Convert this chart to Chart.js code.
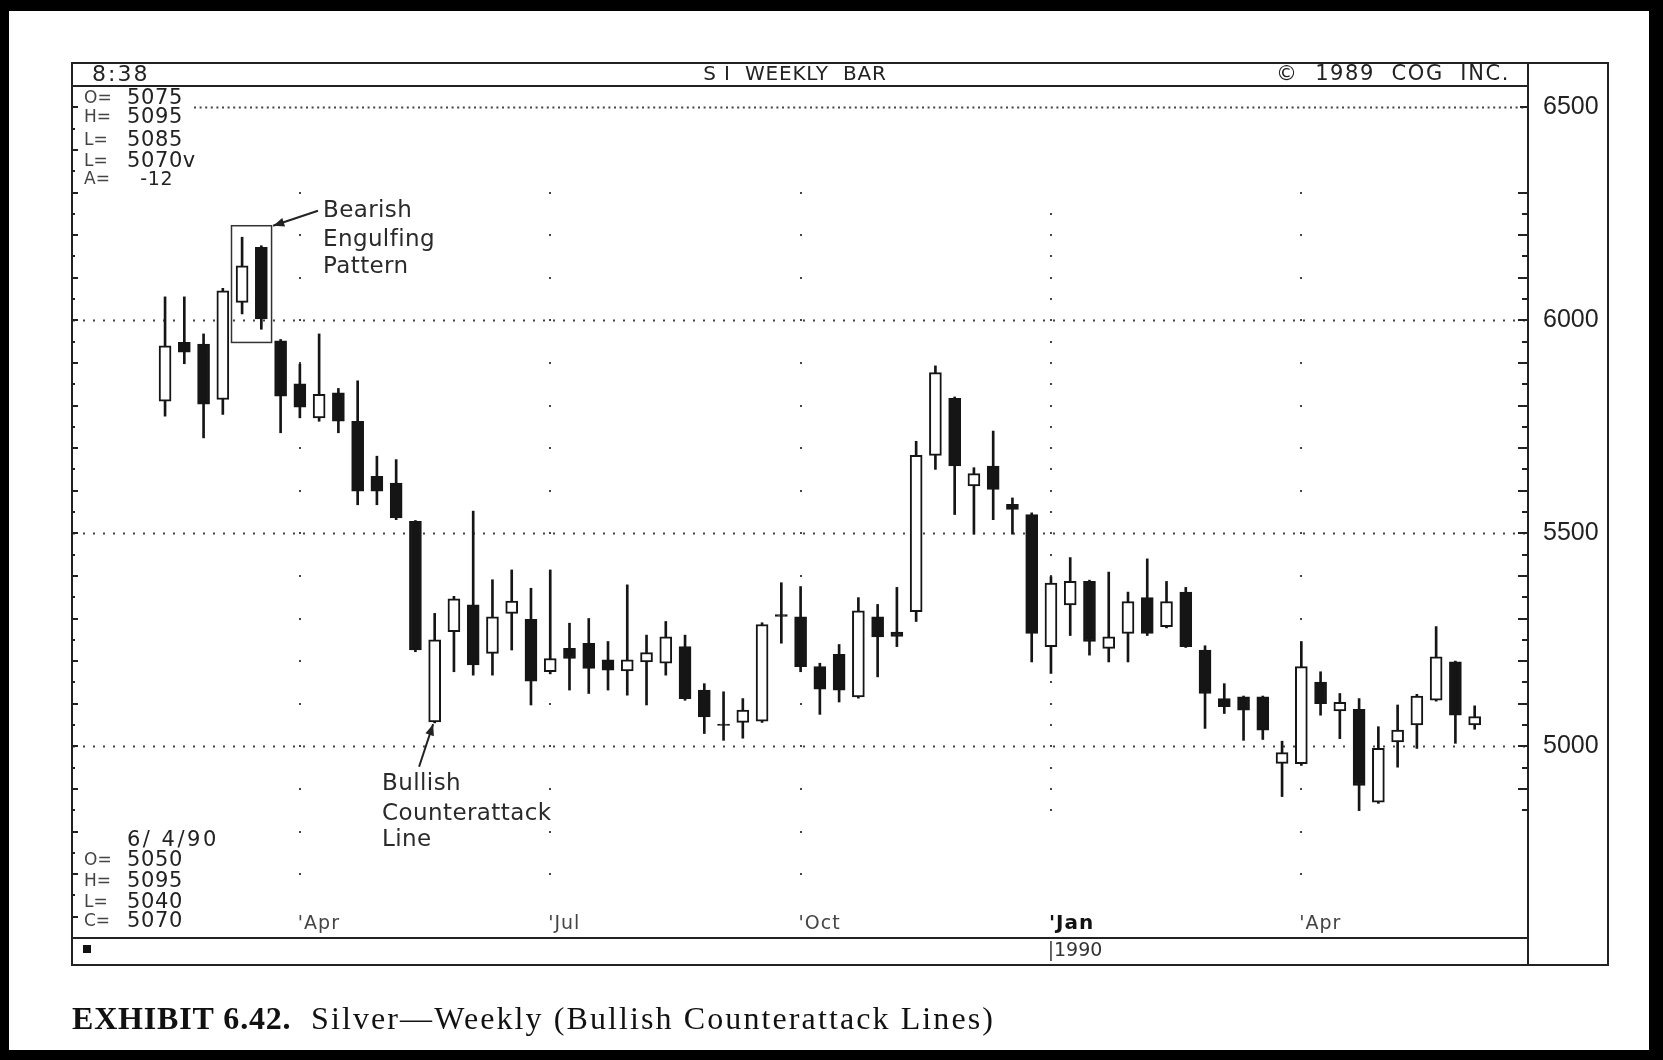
<!DOCTYPE html>
<html><head><meta charset="utf-8">
<script src="https://cdn.jsdelivr.net/npm/chart.js@4.4.0/dist/chart.umd.min.js"></script>
<style>html,body{margin:0;padding:0;background:#fff;overflow:hidden}canvas{display:block}</style>
</head><body>
<canvas id="c" width="1663" height="1060"></canvas>
<script>
// ---- data ----
const weekLabels = ["2/13/89","2/20/89","2/27/89","3/6/89","3/13/89","3/20/89","3/27/89","4/3/89","4/10/89","4/17/89","4/24/89","5/1/89","5/8/89","5/15/89","5/22/89","5/29/89","6/5/89","6/12/89","6/19/89","6/26/89","7/3/89","7/10/89","7/17/89","7/24/89","7/31/89","8/7/89","8/14/89","8/21/89","8/28/89","9/4/89","9/11/89","9/18/89","9/25/89","10/2/89","10/9/89","10/16/89","10/23/89","10/30/89","11/6/89","11/13/89","11/20/89","11/27/89","12/4/89","12/11/89","12/18/89","12/25/89","1/1/90","1/8/90","1/15/90","1/22/90","1/29/90","2/5/90","2/12/90","2/19/90","2/26/90","3/5/90","3/12/90","3/19/90","3/26/90","4/2/90","4/9/90","4/16/90","4/23/90","4/30/90","5/7/90","5/14/90","5/21/90","5/28/90","6/4/90"];
const opens  = [5810,5948,5944,5814,6042,6171,5952,5851,5771,5830,5763,5634,5618,5528,5057,5269,5332,5218,5312,5298,5175,5230,5242,5203,5177,5198,5195,5234,5132,5052,5056,5059,5309,5304,5187,5216,5116,5304,5268,5316,5683,5817,5611,5658,5568,5544,5234,5332,5387,5230,5265,5349,5281,5362,5226,5112,5116,5116,4960,4959,5151,5083,5087,4869,5010,5050,5108,5198,5050];
const highs  = [6055,6055,5968,6075,6195,6175,5955,5897,5968,5840,5858,5681,5673,5530,5312,5352,5552,5391,5414,5371,5414,5289,5300,5246,5379,5261,5293,5261,5147,5128,5112,5290,5384,5375,5195,5239,5349,5333,5373,5716,5893,5820,5654,5740,5583,5548,5398,5443,5390,5409,5362,5440,5387,5373,5236,5147,5118,5118,5012,5246,5175,5124,5112,5046,5097,5122,5281,5200,5095];
const lows   = [5775,5898,5724,5779,6015,5979,5736,5771,5763,5736,5567,5567,5532,5222,5055,5175,5167,5167,5226,5097,5170,5132,5124,5132,5120,5097,5167,5108,5030,5014,5019,5056,5242,5175,5075,5104,5113,5163,5234,5293,5650,5544,5498,5532,5498,5198,5171,5260,5214,5198,5198,5260,5278,5232,5042,5077,5014,5016,4882,4955,5073,5018,4849,4866,4951,4995,5106,5007,5040];
const closes = [5940,5925,5803,6069,6128,6003,5822,5796,5826,5763,5599,5599,5536,5226,5250,5346,5191,5304,5341,5153,5206,5206,5183,5179,5203,5220,5257,5112,5069,5049,5085,5286,5305,5187,5134,5132,5318,5257,5258,5683,5877,5658,5640,5603,5556,5265,5383,5387,5246,5257,5340,5265,5340,5234,5124,5093,5085,5038,4985,5187,5100,5103,4908,4995,5038,5118,5210,5073,5070];
const priceTicks = [5000,5500,6000,6500];
const quarterLabels = ["'Apr","'Jul","'Oct","'Jan","'Apr"];
const quarterIdx = [7,20,33,46,59];
const yearLabel = "1990";
const yearIdx = 46;
const infoTop = [["O=","5075"],["H=","5095"],["L=","5085"],["L=","5070v"],["A=","  -12"]];
const infoBottomDate = "6/ 4/90";
const infoBottom = [["O=","5050"],["H=","5095"],["L=","5040"],["C=","5070"]];

// ---- annotation anchors (index, price) ----
const engulfBox = {i0:3.45, i1:5.53, lo:5948, hi:6222};
const notes = [
  {lines:["Bearish","Engulfing","Pattern"], x:8.2, ys:[6257,6189,6126], arrow:[7.94,6257,5.61,6222]},
  {lines:["Bullish","Counterattack","Line"], x:11.27, ys:[4911,4840,4779], arrow:[13.19,4952,13.92,5052]}
];

const INK = '#151515';
const sansF = '"DejaVu Sans", sans-serif';

const bodyData = opens.map((o,i)=>({x:i, y:[Math.min(o,closes[i]), Math.max(o,closes[i])]}));
const wickData = highs.map((h,i)=>({x:i, y:[lows[i], h]}));
const bodyColors = opens.map((o,i)=> closes[i] >= o ? '#ffffff' : INK);

function arrow(ctx, x1,y1,x2,y2){
  ctx.beginPath(); ctx.moveTo(x1,y1); ctx.lineTo(x2,y2); ctx.stroke();
  const a = Math.atan2(y2-y1, x2-x1), L=12, W=0.38;
  ctx.beginPath(); ctx.moveTo(x2,y2);
  ctx.lineTo(x2 - L*Math.cos(a-W), y2 - L*Math.sin(a-W));
  ctx.lineTo(x2 - L*Math.cos(a+W), y2 - L*Math.sin(a+W));
  ctx.closePath(); ctx.fill();
}
function spaced(ctx, px){ try { ctx.letterSpacing = px + 'px'; } catch(e) {} }

const decor = {
  id:'decor',
  beforeDraw(chart){
    const ctx = chart.ctx;
    ctx.save();
    ctx.fillStyle = '#000'; ctx.fillRect(0,0,1663,1060);
    ctx.fillStyle = '#fff'; ctx.fillRect(9,11,1663-9-14,1060-11-10);
    ctx.restore();
  },
  beforeDatasetsDraw(chart){
    const ctx = chart.ctx, xs = chart.scales.x, ys = chart.scales.y, ca = chart.chartArea;
    ctx.save();
    ctx.strokeStyle = '#444'; ctx.lineWidth = 1.8;
    priceTicks.forEach(v=>{
      const y = Math.round(ys.getPixelForValue(v))+0.5;
      ctx.setLineDash(v===6500 ? [2,3.6] : [2,8]);
      ctx.beginPath(); ctx.moveTo(v===6500 ? 194 : ca.left, y); ctx.lineTo(ca.right, y); ctx.stroke();
    });
    ctx.setLineDash([]);
    ctx.fillStyle = '#444';
    quarterIdx.forEach(q=>{
      const x = xs.getPixelForValue(q);
      const step = q===yearIdx ? 50 : 100;
      const lo = q===yearIdx ? 4850 : 4700, hi = q===yearIdx ? 6250 : 6300;
      for(let v=lo; v<=hi; v+=step){
        const y = ys.getPixelForValue(v);
        ctx.fillRect(Math.round(x-1), Math.round(y-1), 2, 2);
      }
    });
    ctx.restore();
  },
  afterDraw(chart){
    const ctx = chart.ctx, xs = chart.scales.x, ys = chart.scales.y, ca = chart.chartArea;
    ctx.save();
    ctx.strokeStyle = '#222'; ctx.lineWidth = 2;
    ctx.strokeRect(72, 63, 1608-72, 965-63);
    ctx.beginPath();
    ctx.moveTo(72, 86); ctx.lineTo(ca.right, 86);
    ctx.moveTo(72, ca.bottom); ctx.lineTo(ca.right, ca.bottom);
    ctx.moveTo(ca.right, 63); ctx.lineTo(ca.right, 965);
    ctx.stroke();
    ctx.lineWidth = 2;
    ctx.beginPath();
    for(let v=4850; v<=6300; v+=50){
      const y = Math.round(ys.getPixelForValue(v));
      const len = v%100===0 ? 10 : 6;
      ctx.moveTo(ca.right-len, y); ctx.lineTo(ca.right, y);
    }
    let y65 = Math.round(ys.getPixelForValue(6500));
    ctx.moveTo(ca.right-8, y65); ctx.lineTo(ca.right, y65);
    for(let v=4600; v<=6500; v+=50){
      const y = Math.round(ys.getPixelForValue(v));
      const len = v%100===0 ? 6 : 3;
      ctx.moveTo(72, y); ctx.lineTo(72+len, y);
    }
    ctx.stroke();

    // title bar
    ctx.fillStyle = '#222'; ctx.textBaseline = 'middle';
    ctx.font = '22px ' + sansF; ctx.textAlign = 'left';
    spaced(ctx, 2);
    ctx.fillText('8:38', 92, 75);
    spaced(ctx, 0.8);
    ctx.font = '20px ' + sansF; ctx.textAlign = 'center';
    ctx.fillText('S I  WEEKLY  BAR', 795, 75);
    ctx.textAlign = 'left'; ctx.font = '21px ' + sansF;
    spaced(ctx, 1.6);
    ctx.fillText('\u00A9  1989  COG  INC.', 1276, 75);
    spaced(ctx, 0);

    const tops = [99,118,141,162,180];
    infoTop.forEach((r,k)=>{
      ctx.font = '17px ' + sansF; ctx.fillStyle = '#444';
      ctx.fillText(r[0], 84, tops[k]);
      ctx.font = (k===4 ? '19px ' : '21px ') + sansF; ctx.fillStyle = '#222';
      spaced(ctx, 0.6);
      ctx.fillText(r[1], 127, tops[k]);
      spaced(ctx, 0);
    });
    ctx.font = '21px ' + sansF; ctx.fillStyle = '#222';
    spaced(ctx, 2.5);
    ctx.fillText(infoBottomDate, 127, 841);
    spaced(ctx, 0);
    const bots = [861,882,903,922];
    infoBottom.forEach((r,k)=>{
      ctx.font = '17px ' + sansF; ctx.fillStyle = '#444';
      ctx.fillText(r[0], 84, bots[k]);
      ctx.font = '21px ' + sansF; ctx.fillStyle = '#222';
      spaced(ctx, 0.6);
      ctx.fillText(r[1], 127, bots[k]);
      spaced(ctx, 0);
    });

    quarterLabels.forEach((t,k)=>{
      const x = xs.getPixelForValue(quarterIdx[k]);
      ctx.font = (t==="'Jan" ? 'bold 20px ' : '19px ') + sansF;
      ctx.fillStyle = t==="'Jan" ? '#111' : '#444';
      spaced(ctx, 1);
      ctx.fillText(t, x-2, 924);
      spaced(ctx, 0);
    });
    ctx.fillStyle = '#111'; ctx.fillRect(83,945,8,8);
    const xj = xs.getPixelForValue(yearIdx);
    ctx.lineWidth = 1.5; ctx.strokeStyle = '#333';
    ctx.beginPath(); ctx.moveTo(xj, 941); ctx.lineTo(xj, 961); ctx.stroke();
    ctx.font = '19px ' + sansF; ctx.fillStyle = '#333';
    ctx.fillText(yearLabel, xj+3, 951);

    ctx.strokeStyle = '#333'; ctx.lineWidth = 1.5;
    const bx0 = xs.getPixelForValue(engulfBox.i0), bx1 = xs.getPixelForValue(engulfBox.i1);
    const by0 = ys.getPixelForValue(engulfBox.hi), by1 = ys.getPixelForValue(engulfBox.lo);
    ctx.strokeRect(bx0, by0, bx1-bx0, by1-by0);

    notes.forEach(n=>{
      ctx.font = '23px ' + sansF; ctx.fillStyle = '#2a2a2a'; ctx.textAlign='left';
      spaced(ctx, 0.4);
      n.lines.forEach((t,k)=> ctx.fillText(t, xs.getPixelForValue(n.x), ys.getPixelForValue(n.ys[k])));
      spaced(ctx, 0);
      ctx.strokeStyle = '#222'; ctx.fillStyle = '#222'; ctx.lineWidth = 2;
      arrow(ctx, xs.getPixelForValue(n.arrow[0]), ys.getPixelForValue(n.arrow[1]),
                 xs.getPixelForValue(n.arrow[2]), ys.getPixelForValue(n.arrow[3]));
    });

    ctx.fillStyle = '#111'; ctx.textBaseline = 'alphabetic';
    ctx.font = 'bold 32px "Liberation Serif", serif';
    spaced(ctx, 0.8);
    ctx.fillText('EXHIBIT 6.42.', 72, 1029);
    ctx.font = '32px "Liberation Serif", serif';
    spaced(ctx, 2.1);
    ctx.fillText('Silver\u2014Weekly (Bullish Counterattack Lines)', 311, 1029);
    spaced(ctx, 0);
    ctx.restore();
  }
};

new Chart(document.getElementById('c'), {
  type: 'bar',
  data: {
    labels: weekLabels,
    datasets: [
      {label:'Range', data: wickData, backgroundColor: INK, borderWidth: 0, barThickness: 2, grouped: false, order: 2},
      {label:'Body', data: bodyData, backgroundColor: bodyColors, borderColor: INK, borderWidth: 2, borderSkipped: false, barThickness: 12, grouped: false, order: 1}
    ]
  },
  options: {
    responsive: false, animation: false, events: [],
    layout: {padding: {left: 73, top: 86, right: 55, bottom: 122}},
    plugins: {legend: {display: false}, tooltip: {enabled: false}},
    scales: {
      x: {type: 'linear', min: -4.78, max: 70.77, display: false, offset: false},
      y: {
        type: 'linear', position: 'right', min: 4550, max: 6550,
        afterBuildTicks: s => { s.ticks = priceTicks.map(v => ({value: v})); },
        afterFit: s => { s.width = 80; },
        grid: {drawOnChartArea: false, drawTicks: false},
        border: {display: false},
        ticks: {padding: 15, color: '#222', font: {family: 'Liberation Sans', size: 25}, callback: v => String(v)}
      }
    }
  },
  plugins: [decor]
});
</script>
</body></html>
